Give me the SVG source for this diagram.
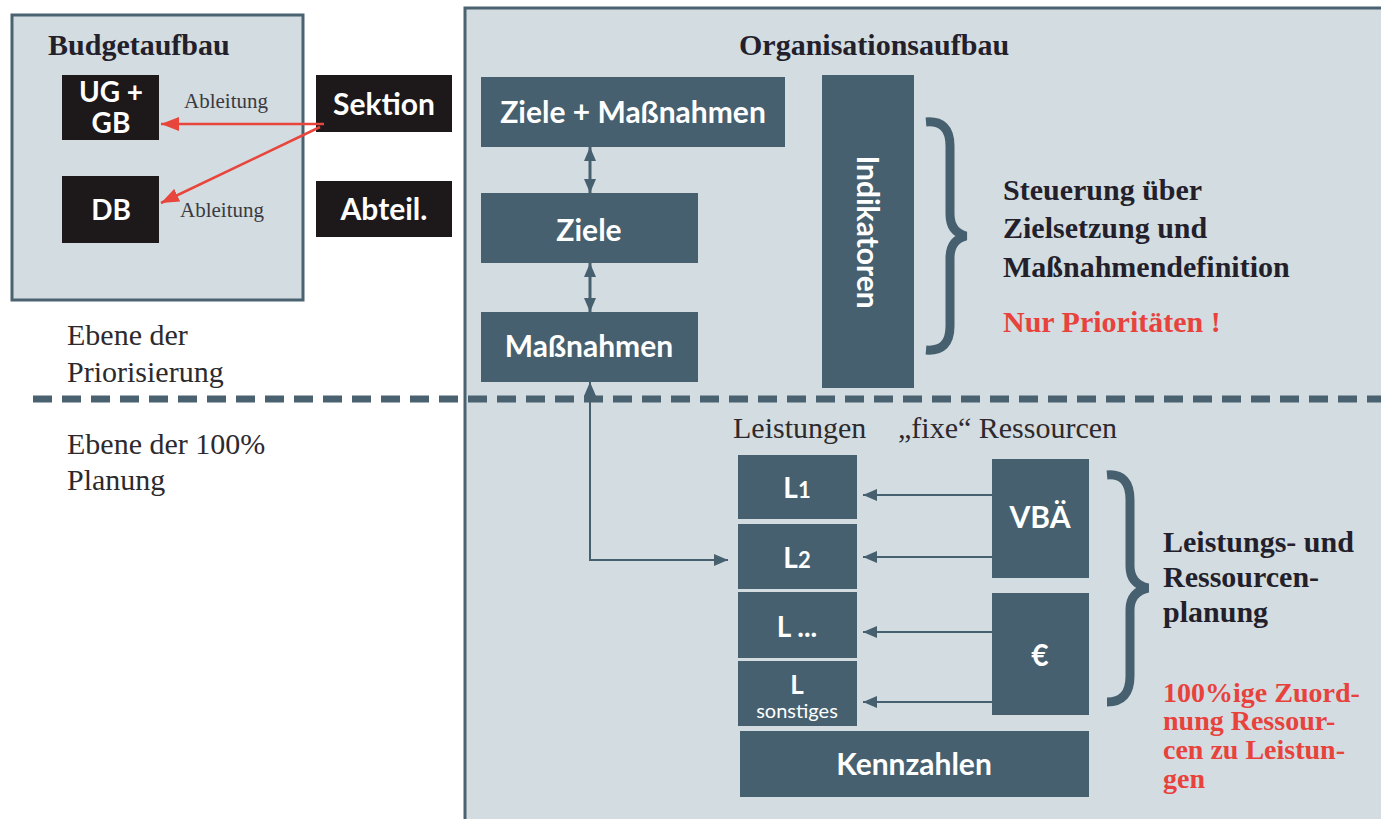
<svg xmlns="http://www.w3.org/2000/svg" width="1381" height="819" viewBox="0 0 1381 819">
<style>
.panel{fill:#d3dce1;stroke:#4b6271;stroke-width:3}
.blk{fill:#1d191a}
.slate{fill:#46606f}
.lbl{font-family:Lato,"Liberation Sans",Arial,sans-serif;font-weight:bold;fill:#ffffff;text-anchor:middle;font-size:30px}
.ser{font-family:"Liberation Serif","Times New Roman",serif;fill:#2d2a2e;font-size:30px}
.serb{font-family:"Liberation Serif","Times New Roman",serif;fill:#231f2b;font-size:30px;font-weight:bold}
.red{fill:#e8423c;font-size:28px}
.small{font-family:"Liberation Serif","Times New Roman",serif;fill:#3a3a40;font-size:21px}
.conn{stroke:#46606f;stroke-width:2;fill:none}
.dbl{stroke:#46606f;stroke-width:3;fill:none}
.rconn{stroke:#e8453c;stroke-width:2.5;fill:none}
.brace{stroke:#46606f;stroke-width:9;fill:none}
.dash{stroke:#4a6170;stroke-width:7;stroke-dasharray:19 10;fill:none}
</style>
<defs>
<marker id="ah" viewBox="0 0 14 12" refX="14" refY="6" markerWidth="14" markerHeight="12" markerUnits="userSpaceOnUse" orient="auto-start-reverse"><path d="M0,0 L14,6 L0,12 z" fill="#46606f"/></marker>
<marker id="ahr" viewBox="0 0 18 14" refX="18" refY="7" markerWidth="18" markerHeight="14" markerUnits="userSpaceOnUse" orient="auto"><path d="M0,0 L18,7 L0,14 z" fill="#e8453c"/></marker>
</defs>
<rect width="1381" height="819" fill="#ffffff"/>

<g id="budgetaufbau">
<rect class="panel" x="12" y="15" width="291" height="285"/>
<text class="serb" x="48" y="55">Budgetaufbau</text>
</g>
<g id="ug-gb"><rect class="blk" x="62" y="75" width="97" height="65"/>
<text class="lbl" x="111" y="102" style="font-size:28px">UG +</text><text class="lbl" x="111" y="133" style="font-size:28px">GB</text></g>
<g id="db"><rect class="blk" x="62" y="176" width="97" height="67"/><text class="lbl" x="111" y="220" style="font-size:28px">DB</text></g>
<g id="sektion"><rect class="blk" x="316" y="75" width="136" height="57"/><text class="lbl" x="384" y="115">Sektion</text></g>
<g id="abteil"><rect class="blk" x="316" y="181" width="136" height="56"/><text class="lbl" x="384" y="220">Abteil.</text></g>

<g id="organisationsaufbau">
<rect class="panel" x="465" y="8" width="1000" height="900"/>
<text class="serb" x="739" y="55">Organisationsaufbau</text>
</g>
<g id="ziele-massnahmen"><rect class="slate" x="481" y="77" width="304" height="70"/><text class="lbl" x="633" y="123">Ziele + Maßnahmen</text></g>
<g id="ziele"><rect class="slate" x="481" y="193" width="217" height="70"/><text class="lbl" x="589" y="241">Ziele</text></g>
<g id="massnahmen"><rect class="slate" x="481" y="312" width="217" height="70"/><text class="lbl" x="589" y="357">Maßnahmen</text></g>
<g id="indikatoren"><rect class="slate" x="822" y="75" width="92" height="313"/><text class="lbl" transform="translate(857,232) rotate(90)">Indikatoren</text></g>

<g id="steuerung">
<path class="brace" d="M926 122 Q950 120 950 146 L950 214 Q950 232 966 236 Q950 240 950 258 L950 326 Q950 352 926 350"/>
<text class="serb" x="1003" y="200">Steuerung über</text>
<text class="serb" x="1003" y="238">Zielsetzung und</text>
<text class="serb" x="1003" y="277">Maßnahmendefinition</text>
<text class="serb red" x="1003" y="332" style="font-size:30px">Nur Prioritäten !</text>
</g>

<g id="ebenen">
<text class="ser" x="67" y="345">Ebene der</text>
<text class="ser" x="67" y="382">Priorisierung</text>
<text class="ser" x="67" y="454">Ebene der 100%</text>
<text class="ser" x="67" y="490">Planung</text>
<path class="dash" d="M33 399 H1381"/>
</g>

<g id="header-leistungen">
<text class="ser" x="733" y="438">Leistungen</text>
<text class="ser" x="898" y="438">&#x201E;fixe&#x201C; Ressourcen</text>
</g>
<g id="l1"><rect class="slate" x="738" y="455" width="119" height="64"/><text class="lbl" x="797" y="498" style="font-size:28px">L<tspan style="font-size:22px">1</tspan></text></g>
<g id="l2"><rect class="slate" x="738" y="524" width="119" height="65"/><text class="lbl" x="797" y="568" style="font-size:28px">L<tspan style="font-size:22px">2</tspan></text></g>
<g id="l-more"><rect class="slate" x="738" y="592" width="119" height="66"/><text class="lbl" x="797" y="637" style="font-size:28px">L ...</text></g>
<g id="l-sonstiges"><rect class="slate" x="738" y="661" width="119" height="65"/><text class="lbl" x="797" y="694" style="font-size:26px">L</text><text class="lbl" x="797" y="718" style="font-size:20px;font-weight:normal">sonstiges</text></g>
<g id="kennzahlen"><rect class="slate" x="740" y="731" width="349" height="66"/><text class="lbl" x="914" y="775">Kennzahlen</text></g>
<g id="vba"><rect class="slate" x="992" y="459" width="97" height="119"/><text class="lbl" x="1040" y="528">VBÄ</text></g>
<g id="euro"><rect class="slate" x="992" y="593" width="97" height="122"/><text class="lbl" x="1040" y="666">€</text></g>

<g id="planung">
<path class="brace" d="M1107 475 Q1130 473 1130 500 L1130 566 Q1130 584 1148 588 Q1130 592 1130 610 L1130 676 Q1130 702 1107 702"/>
<text class="serb" x="1163" y="552">Leistungs- und</text>
<text class="serb" x="1163" y="587">Ressourcen-</text>
<text class="serb" x="1163" y="622">planung</text>
<text class="serb red" x="1163" y="702">100%ige Zuord-</text>
<text class="serb red" x="1163" y="730">nung Ressour-</text>
<text class="serb red" x="1163" y="759">cen zu Leistun-</text>
<text class="serb red" x="1163" y="788">gen</text>
</g>

<g id="connectors">
<path class="rconn" d="M324 124 H161" marker-end="url(#ahr)"/>
<path class="rconn" d="M320 127 L161 203" marker-end="url(#ahr)"/>
<text class="small" x="184" y="108">Ableitung</text>
<text class="small" x="180" y="217">Ableitung</text>
<path class="dbl" d="M590 147 V193" marker-start="url(#ah)" marker-end="url(#ah)"/>
<path class="dbl" d="M590 263 V312" marker-start="url(#ah)" marker-end="url(#ah)"/>
<path class="conn" d="M728 560 H590 V382" marker-start="url(#ah)" marker-end="url(#ah)"/>
<path class="conn" d="M992 495 H863" marker-end="url(#ah)"/>
<path class="conn" d="M992 557 H863" marker-end="url(#ah)"/>
<path class="conn" d="M992 632 H863" marker-end="url(#ah)"/>
<path class="conn" d="M992 702 H863" marker-end="url(#ah)"/>
</g>
</svg>
